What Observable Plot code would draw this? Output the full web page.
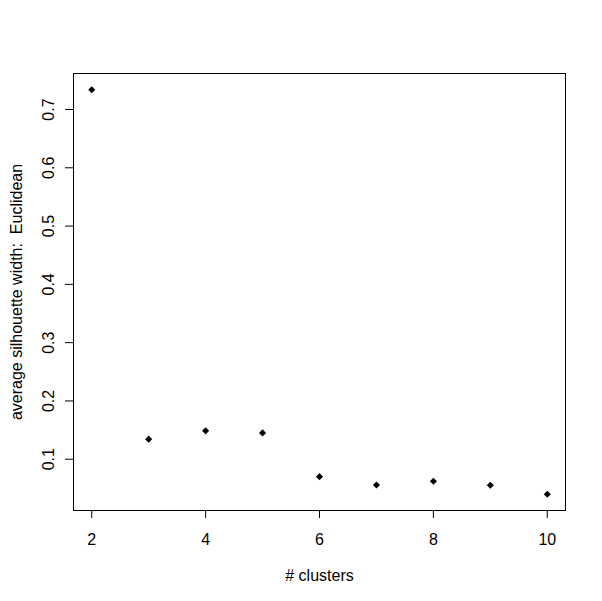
<!DOCTYPE html>
<html>
<head>
<meta charset="utf-8">
<script src="https://cdn.jsdelivr.net/npm/d3@7"></script>
<script src="https://cdn.jsdelivr.net/npm/@observablehq/plot@0.6"></script>
<style>
  html, body { margin: 0; padding: 0; background: #fff; }
  #chart svg { display: block; }
</style>
</head>
<body>
<div id="chart"></div>
<script>
const clusters = [2, 3, 4, 5, 6, 7, 8, 9, 10];
const silhouette = [0.734, 0.1344, 0.1487, 0.1452, 0.0701, 0.0558, 0.0622, 0.0553, 0.0398];
const xTicks = [2, 4, 6, 8, 10];
const yTicks = [0.1, 0.2, 0.3, 0.4, 0.5, 0.6, 0.7];
const yTickLabels = ["0.1", "0.2", "0.3", "0.4", "0.5", "0.6", "0.7"];
const xTitle = "# clusters";
const yTitle = "average silhouette width:  Euclidean";

const data = clusters.map((k, i) => ({k, s: silhouette[i]}));
const yt = yTicks.map((v, i) => ({v, label: yTickLabels[i]}));

function ext(arr) {
  const [a, b] = d3.extent(arr);
  const e = (b - a) * 0.04;
  return [a - e, b + e];
}

const font = "'Liberation Sans', Arial, sans-serif";

const chart = Plot.plot({
  width: 602,
  height: 601,
  marginLeft: 73,
  marginRight: 37,
  marginTop: 73,
  marginBottom: 91,
  style: {fontFamily: font, fontSize: "16px", color: "#000", background: "#fff"},
  x: {domain: ext(clusters), label: null},
  y: {domain: ext(silhouette), label: null},
  marks: [
    Plot.frame({stroke: "#000", strokeWidth: 1}),
    Plot.axisX({ticks: xTicks, tickSize: 8, tickPadding: 15.5, tickFormat: d => String(d), label: null, fontSize: 16, stroke: "#000"}),
    Plot.axisY({ticks: yTicks, tickSize: 8, tickFormat: () => "", label: null, stroke: "#000"}),
    Plot.text(yt, {y: "v", text: "label", frameAnchor: "left", dx: -25, rotate: -90, textAnchor: "middle", lineAnchor: "middle", fontSize: 16, fill: "#000"}),
    Plot.text([xTitle], {text: d => d, frameAnchor: "bottom", dy: 70.5, lineAnchor: "bottom", textAnchor: "middle", fontSize: 16, fill: "#000"}),
    Plot.text([yTitle], {text: d => d, frameAnchor: "left", dx: -57, rotate: -90, lineAnchor: "middle", textAnchor: "middle", fontSize: 16, fill: "#000"}),
    Plot.dot(data, {x: "k", y: "s", symbol: "diamond2", r: 3.2, fill: "#000", stroke: null})
  ]
});
document.getElementById("chart").appendChild(chart);
</script>
</body>
</html>
